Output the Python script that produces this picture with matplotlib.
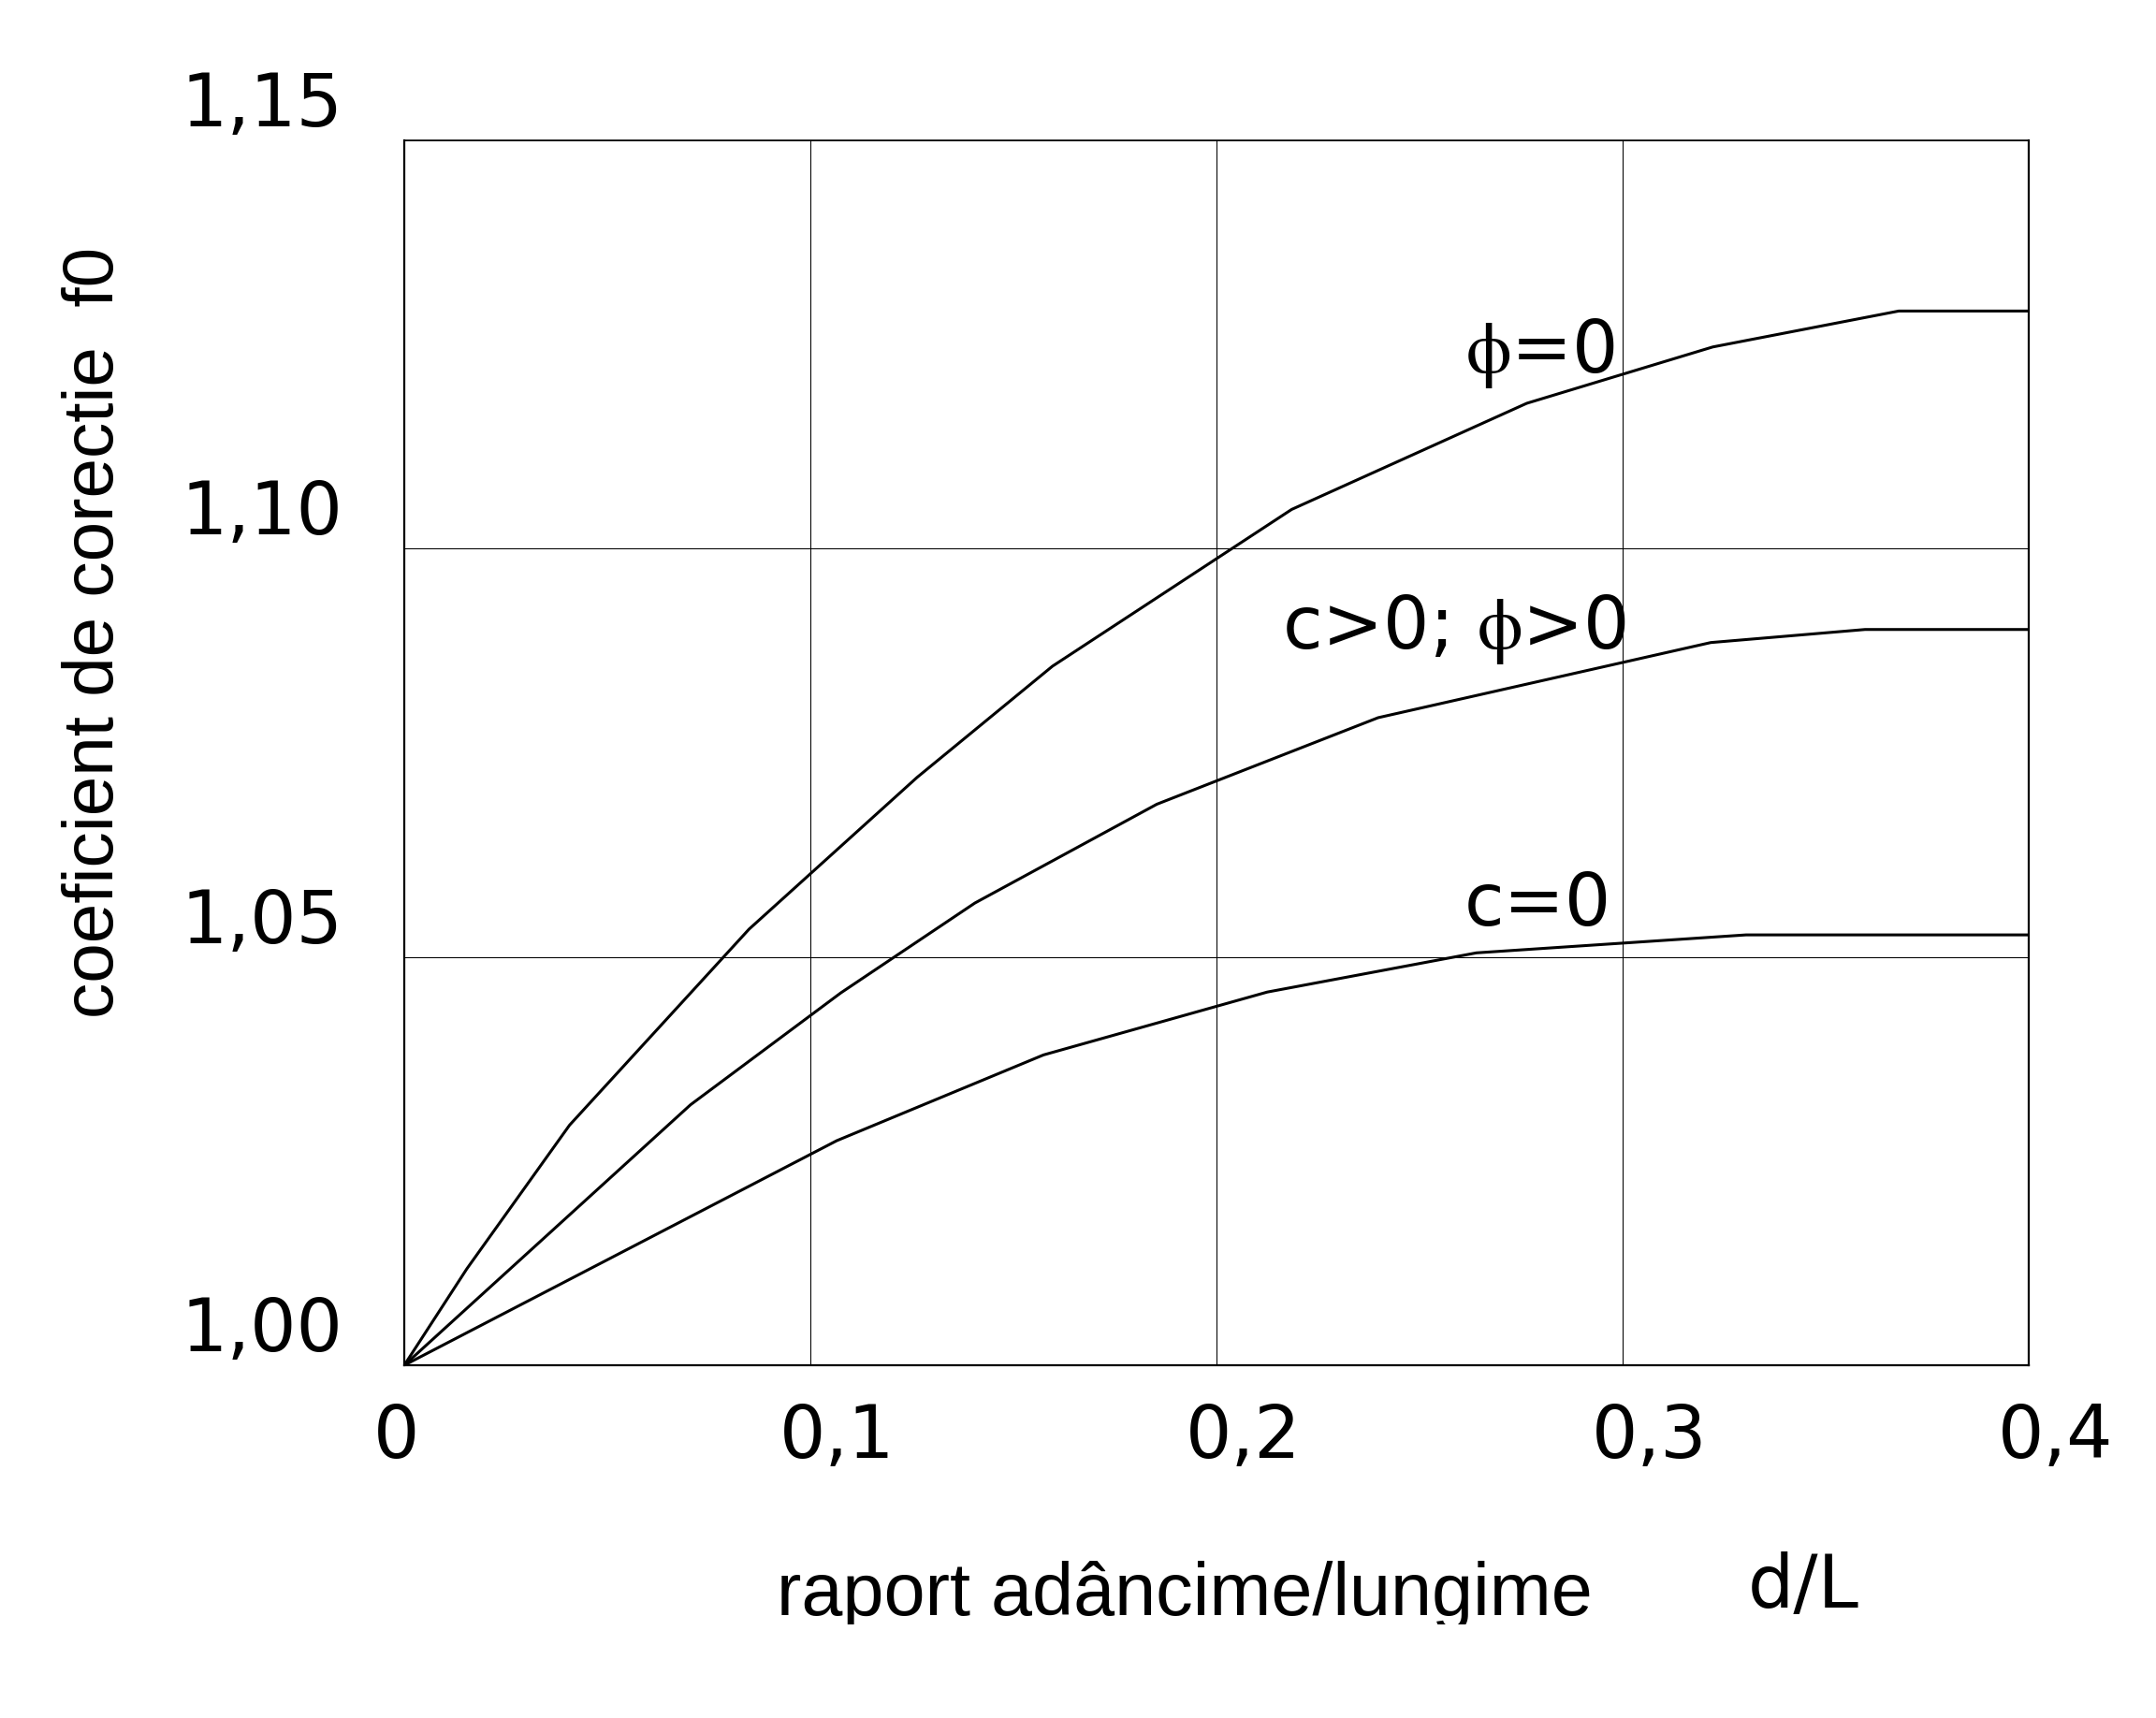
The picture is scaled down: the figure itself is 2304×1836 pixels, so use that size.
import matplotlib
matplotlib.use("Agg")
import matplotlib.pyplot as plt
from matplotlib.transforms import ScaledTranslation, Bbox, TransformedBbox

plt.rcParams['font.family'] = ['DejaVu Sans']
plt.rcParams['mathtext.fontset'] = 'stix'

# ---- data ----
phi0_x = [0, 0.0154, 0.0407, 0.0849, 0.1263, 0.1596, 0.2185, 0.2764, 0.3222, 0.368, 0.4]
phi0_y = [1.0, 1.0118, 1.0294, 1.0534, 1.0720, 1.0856, 1.1048, 1.1178, 1.1247, 1.1291, 1.1291]

mid_x = [0, 0.0705, 0.1075, 0.1405, 0.1853, 0.2398, 0.3217, 0.3597, 0.4]
mid_y = [1.0, 1.0319, 1.0456, 1.0566, 1.0687, 1.0793, 1.0885, 1.0901, 1.0901]

c0_x = [0, 0.1065, 0.1574, 0.2125, 0.264, 0.3304, 0.4]
c0_y = [1.0, 1.0275, 1.038, 1.0457, 1.0505, 1.0527, 1.0527]

x_ticks = [0, 0.1, 0.2, 0.3, 0.4]
x_tick_labels = ['0', '0,1', '0,2', '0,3', '0,4']
y_ticks = [1.00, 1.05, 1.10, 1.15]
y_tick_labels = ['1,00', '1,05', '1,10', '1,15']

curve_labels = [r'$\mathrm{\phi}$=0', r'c>0; $\mathrm{\phi}$>0', 'c=0']
curve_label_x = [0.2981, 0.3009, 0.2972]
curve_label_y = [1.12154, 1.08776, 1.0539]

W, H = 2304, 1836
fig = plt.figure(figsize=(W / 100, H / 100), dpi=100)
L, R, T, B = 432, 2168, 150, 1459
ax = fig.add_axes([L / W, 1 - B / H, (R - L) / W, (B - T) / H])

for xs, ys in [(phi0_x, phi0_y), (mid_x, mid_y), (c0_x, c0_y)]:
    ax.plot(xs, ys, color='black', lw=2.2, solid_joinstyle='miter', zorder=3)

ax.set_xlim(0, 0.4)
ax.set_ylim(1.0, 1.15)
ax.set_xticks(x_ticks)
ax.set_xticklabels(x_tick_labels)
ax.set_yticks(y_ticks)
ax.set_yticklabels(y_tick_labels)
ax.grid(True, color='black', lw=0.75)
ax.set_axisbelow(True)
for s in ax.spines.values():
    s.set_linewidth(1.6)
    s.set_color('black')
ax.spines['top'].set_linewidth(1.2)

ax.tick_params(axis='both', length=0, labelsize=56, colors='black')
ax.tick_params(axis='y', pad=66 * 0.72)
ax.tick_params(axis='x', pad=99 * 0.72)

for lbl in ax.get_yticklabels():
    lbl.set_va('baseline')
    lbl.set_transform(lbl.get_transform() + ScaledTranslation(0, 15 / 100, fig.dpi_scale_trans))
for lbl in ax.get_xticklabels():
    lbl.set_ha('left')
    lbl.set_va('baseline')
    lbl.set_transform(lbl.get_transform() + ScaledTranslation(-33 / 100, 0, fig.dpi_scale_trans))

for txt, tx, ty in zip(curve_labels, curve_label_x, curve_label_y):
    ax.text(tx, ty, txt, ha='right', va='baseline', fontsize=56, color='black')

fig.text(121 / W, 1 - 676 / H, 'coeficient de corectie  f0', rotation=90,
         rotation_mode='anchor', ha='center', va='baseline',
         fontsize=55, family='Liberation Sans', color='black')

xl = fig.text(830 / W, 1 - 1726 / H, 'raport adâncime/lungime', ha='left', va='baseline',
              fontsize=57, family='Liberation Sans', color='black')
xl.set_clip_box(TransformedBbox(Bbox([[0, 1 - 1736 / H], [1, 1]]), fig.transFigure))
xl.set_clip_on(True)

fig.text(1868 / W, 1 - 1718 / H, 'd/L', ha='left', va='baseline', fontsize=56, color='black')

fig.savefig('out.png', dpi=100, facecolor='white')
